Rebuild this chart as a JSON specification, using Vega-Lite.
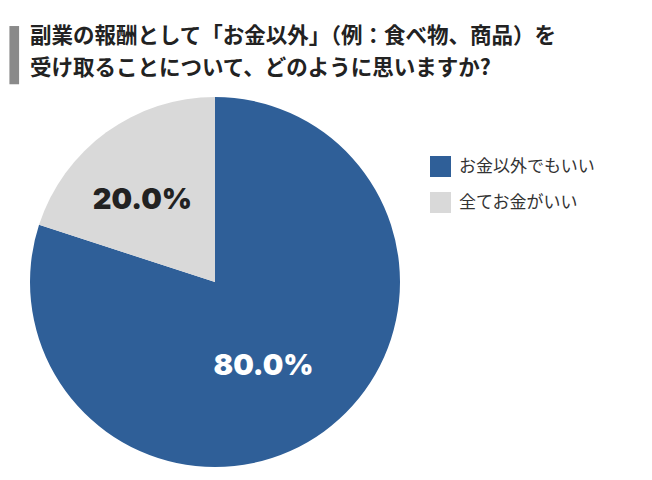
{
  "$schema": "https://vega.github.io/schema/vega-lite/v6.json",
  "padding": {"left": 10, "top": 25, "right": 0, "bottom": 0},
  "background": "white",
  "title": {
    "text": "▎",
    "anchor": "start",
    "frame": "group",
    "dx": -20,
    "dy": 7,
    "font": "DejaVu Sans",
    "fontSize": 49,
    "fontWeight": "normal",
    "color": "#8a8a8a",
    "offset": -49
  },
  "vconcat": [
    {
      "width": 370,
      "height": 370,
      "title": {
        "text": ["副業の報酬として「お金以外」（例：食べ物、商品）を", "受け取ることについて、どのように思いますか?"],
        "anchor": "start",
        "frame": "group",
        "font": "Noto Sans CJK JP",
        "fontSize": 21.5,
        "fontWeight": "bold",
        "color": "#222222",
        "lineHeight": 32,
        "offset": 18
      },
      "data": {
        "values": [
          {"answer": "お金以外でもいい", "value": 80, "label": "80.0%"},
          {"answer": "全てお金がいい", "value": 20, "label": "20.0%"}
        ]
      },
      "encoding": {
        "theta": {"field": "value", "type": "quantitative", "stack": true},
        "order": {"field": "value", "sort": "descending"}
      },
      "layer": [
        {
          "mark": {"type": "arc", "stroke": null},
          "encoding": {
            "color": {
              "field": "answer",
              "type": "nominal",
              "scale": {"domain": ["お金以外でもいい", "全てお金がいい"], "range": ["#2f5f98", "#d9d9d9"]},
              "legend": {
                "title": null,
                "orient": "none",
                "legendX": 400,
                "legendY": 59,
                "symbolType": "square",
                "symbolSize": 441,
                "symbolStrokeWidth": 0,
                "symbolOpacity": 1,
                "labelFont": "Noto Sans CJK JP",
                "labelFontSize": 17,
                "labelColor": "#333333",
                "labelOffset": 8,
                "rowPadding": 15
              }
            }
          }
        },
        {
          "mark": {"type": "text", "radius": 103, "dx": -12, "dy": 1, "font": "Inter", "fontSize": 29, "fontWeight": 900},
          "encoding": {
            "text": {"field": "label"},
            "color": {"condition": {"test": "datum.value > 50", "value": "#ffffff"}, "value": "#222222"}
          }
        }
      ]
    }
  ],
  "config": {"view": {"stroke": null}, "concat": {"spacing": 0}}
}
